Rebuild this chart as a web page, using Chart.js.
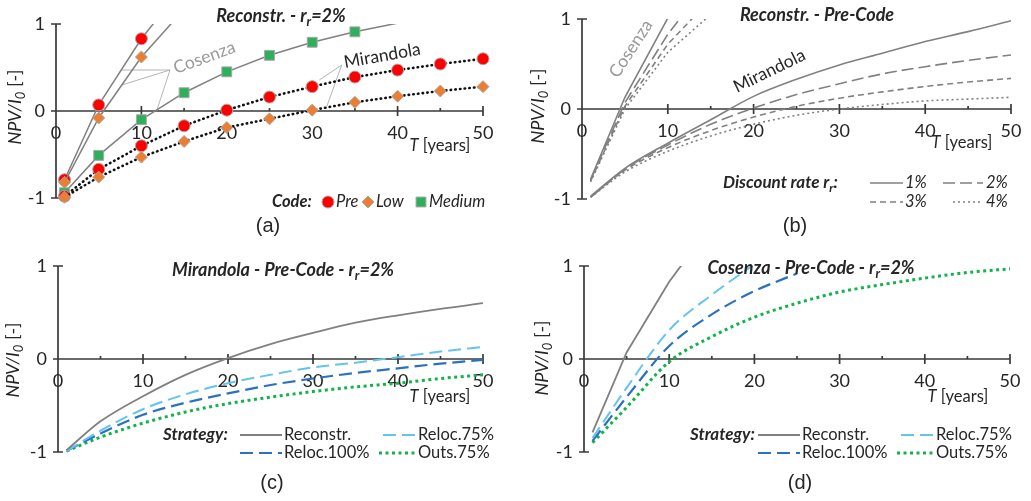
<!DOCTYPE html>
<html>
<head>
<meta charset="utf-8">
<script src="https://cdn.jsdelivr.net/npm/chart.js@4.4.0/dist/chart.umd.min.js"></script>
<style>
  body { margin: 0; background: #fff; }
  canvas { position: absolute; }
</style>
</head>
<body>
<canvas id="chartA" style="left:0;top:0" width="515" height="250"></canvas>
<canvas id="chartB" style="left:515px;top:0" width="516" height="250"></canvas>
<canvas id="chartC" style="left:0;top:250px" width="515" height="251"></canvas>
<canvas id="chartD" style="left:515px;top:250px" width="516" height="251"></canvas>
<script>
// time horizon T [years], shared by every series (a series may stop early)
const years = [1, 5, 10, 15, 20, 25, 30, 35, 40, 45, 50];
const xTicks = [0, 10, 20, 30, 40, 50];
const xMinorTicks = [5, 15, 25, 35, 45];
const yTicks = [-1, 0, 1];

// (a) Reconstr. - r=2%, by code level
const cosPre = [-0.79, 0.07, 0.83, 1.45];
const cosLow = [-0.82, -0.08, 0.62, 1.17];
const cosMedium = [-0.94, -0.51, -0.10, 0.21, 0.45, 0.64, 0.79, 0.91, 1.01];
const mirPre = [-0.98, -0.67, -0.40, -0.17, 0.01, 0.16, 0.28, 0.39, 0.47, 0.54, 0.60];
const mirLow = [-0.99, -0.76, -0.53, -0.35, -0.19, -0.09, 0.01, 0.10, 0.17, 0.23, 0.28];
const codeLabels = ['Pre', 'Low', 'Medium'];

// (b) Reconstr. - Pre-Code, by discount rate
const rateLabels = ['1%', '2%', '3%', '4%'];
const cosRate1 = [-0.78, 0.13, 1.01, 1.80];
const cosRate2 = cosPre;
const cosRate3 = [-0.80, 0.03, 0.72, 1.22];
const cosRate4 = [-0.81, 0.00, 0.63, 1.05];
const mirRate1 = [-0.97, -0.66, -0.38, -0.12, 0.14, 0.33, 0.49, 0.62, 0.75, 0.86, 0.98];
const mirRate2 = mirPre;
const mirRate3 = [-0.98, -0.68, -0.43, -0.24, -0.09, 0.03, 0.12, 0.19, 0.25, 0.30, 0.34];
const mirRate4 = [-0.98, -0.70, -0.47, -0.30, -0.17, -0.07, 0.00, 0.05, 0.09, 0.11, 0.13];

// (c), (d) Pre-Code - r=2%, by strategy
const strategyLabels = ['Reconstr.', 'Reloc.75%', 'Reloc.100%', 'Outs.75%'];
const mirReconstr = mirPre;
const mirReloc75 = [-0.99, -0.77, -0.54, -0.38, -0.26, -0.17, -0.09, -0.04, 0.02, 0.08, 0.13];
const mirReloc100 = [-0.99, -0.80, -0.60, -0.47, -0.37, -0.28, -0.21, -0.15, -0.10, -0.05, -0.01];
const mirOuts75 = [-0.99, -0.84, -0.69, -0.57, -0.48, -0.41, -0.35, -0.30, -0.26, -0.21, -0.17];
const cosReconstr = cosPre;
const cosReloc75 = [-0.85, -0.31, 0.31, 0.69, 1.02];
const cosReloc100 = [-0.88, -0.41, 0.14, 0.48, 0.73, 0.92];
const cosOuts75 = [-0.90, -0.52, -0.03, 0.24, 0.45, 0.60, 0.72, 0.80, 0.87, 0.93, 0.97];

const FONT = 'Lato, "Open Sans", sans-serif';
const CAPTION_FONT = '"Liberation Sans", Arial, sans-serif';
const TEXT = '#262626';
const AXIS = '#3a3a3a';
const GRAY = '#808080';
const RED = '#ff0000';
const ORANGE = '#ed7d31';
const GREEN = '#2fae5c';
const LIGHT_BLUE = '#62c4ef';
const DARK_BLUE = '#2a72c0';
const DOT_GREEN = '#12b34a';
const TITLE_SIZE = 18;
const LABEL_SIZE = 16.5;

function pts(values) {
  return values.map((v, i) => ({ x: years[i], y: v }));
}

// rich text: segments with their own style, optional subscript
function seg(t, style, size, sub, family) {
  return { t, style: style || '', size: size || LABEL_SIZE, sub: !!sub, family };
}
function fontOf(s) {
  const it = s.style.includes('i') ? 'italic ' : '';
  const bd = s.style.includes('b') ? 'bold ' : '';
  const size = s.sub ? Math.round(s.size * 0.7) : s.size;
  return it + bd + size + 'px ' + (s.family || FONT);
}
function drawRich(ctx, t) {
  ctx.save();
  ctx.translate(t.x, t.y);
  if (t.rot) ctx.rotate(t.rot * Math.PI / 180);
  ctx.textAlign = 'left';
  ctx.textBaseline = t.baseline || 'middle';
  let w = 0;
  t.segs.forEach(s => { ctx.font = fontOf(s); w += ctx.measureText(s.t).width; });
  let cx = t.align === 'center' ? -w / 2 : (t.align === 'right' ? -w : 0);
  t.segs.forEach(s => {
    ctx.font = fontOf(s);
    ctx.fillStyle = t.color || TEXT;
    ctx.fillText(s.t, cx, s.sub ? s.size * 0.32 : 0);
    cx += ctx.measureText(s.t).width;
  });
  ctx.restore();
}

function drawMarker(ctx, ds, x, y) {
  ctx.save();
  ctx.fillStyle = ds.pointBackgroundColor;
  ctx.strokeStyle = ds.pointBorderColor;
  ctx.lineWidth = ds.pointBorderWidth;
  const r = ds.legendRadius;
  ctx.beginPath();
  if (ds.pointStyle === 'circle') ctx.arc(x, y, r, 0, Math.PI * 2);
  else if (ds.pointStyle === 'rectRot') {
    ctx.moveTo(x, y - r); ctx.lineTo(x + r, y); ctx.lineTo(x, y + r); ctx.lineTo(x - r, y); ctx.closePath();
  } else {
    const h = r * Math.SQRT1_2;
    ctx.rect(x - h, y - h, 2 * h, 2 * h);
  }
  ctx.fill();
  ctx.stroke();
  ctx.restore();
}

const decor = {
  id: 'decor',
  beforeDatasetsDraw(chart, args, o) {
    const { ctx } = chart;
    const x = chart.scales.x, y = chart.scales.y;
    const x0 = x.getPixelForValue(0), y0 = y.getPixelForValue(0);
    ctx.save();
    ctx.strokeStyle = AXIS;
    ctx.lineWidth = 1.7;
    ctx.beginPath();
    ctx.moveTo(x0, y.getPixelForValue(y.max));
    ctx.lineTo(x0, y.getPixelForValue(y.min));
    ctx.moveTo(x0, y0);
    ctx.lineTo(x.getPixelForValue(x.max), y0);
    xTicks.forEach(v => {
      const px = x.getPixelForValue(v);
      ctx.moveTo(px, y0 - 5); ctx.lineTo(px, y0 + 5);
    });
    xMinorTicks.forEach(v => {
      const px = x.getPixelForValue(v);
      ctx.moveTo(px, y0 - 3); ctx.lineTo(px, y0);
    });
    yTicks.forEach(v => {
      const py = y.getPixelForValue(v);
      ctx.moveTo(x0 - 5, py); ctx.lineTo(x0 + 5, py);
    });
    ctx.stroke();

    ctx.fillStyle = TEXT;
    ctx.font = '18px ' + FONT;
    ctx.textBaseline = 'middle';
    ctx.textAlign = 'center';
    xTicks.forEach(v => ctx.fillText(String(v), x.getPixelForValue(v), y0 + 22));
    ctx.textAlign = 'right';
    yTicks.forEach(v => ctx.fillText(String(v), x0 - 11, y.getPixelForValue(v)));

    // callout lines of the annotations
    ctx.strokeStyle = '#b4b4b4';
    ctx.lineWidth = 1;
    (o.callouts || []).forEach(c => {
      c.to.forEach(p => {
        ctx.beginPath();
        ctx.moveTo(c.from[0], c.from[1]);
        ctx.lineTo(p[0], p[1]);
        ctx.stroke();
      });
    });
    ctx.restore();
  },
  afterDraw(chart, args, o) {
    const { ctx } = chart;
    (o.texts || []).forEach(t => drawRich(ctx, t));
    (o.legend || []).forEach(item => {
      const ds = chart.data.datasets[item.ds];
      if (item.marker) {
        drawMarker(ctx, ds, item.x1, item.y);
      } else {
        ctx.save();
        ctx.strokeStyle = ds.borderColor;
        ctx.lineWidth = ds.borderWidth;
        ctx.setLineDash(ds.borderDash || []);
        ctx.lineCap = ds.borderCapStyle || 'butt';
        ctx.beginPath();
        ctx.moveTo(item.x1, item.y);
        ctx.lineTo(item.x2, item.y);
        ctx.stroke();
        ctx.restore();
      }
      drawRich(ctx, { x: item.lx, y: item.y, segs: [seg(item.label, item.style || '')] });
    });
  }
};
Chart.register(decor);

function options(pad, decorOpts) {
  return {
    responsive: false,
    animation: false,
    events: [],
    layout: { padding: pad },
    plugins: { legend: { display: false }, tooltip: { enabled: false }, decor: decorOpts },
    scales: {
      x: { type: 'linear', min: 0, max: 50, display: false },
      y: { type: 'linear', min: -1, max: 1, display: false }
    },
    elements: { point: { radius: 0 } }
  };
}

const CLIP = { left: 10, top: 0, right: 10, bottom: 10 };
const hideAbove = c => (c.raw && c.raw.y > 1 ? 0 : 6);

function title(x, y, main, withRate) {
  const segs = [seg(main, 'bi', TITLE_SIZE)];
  if (withRate) segs.push(seg('r', 'bi', TITLE_SIZE, true), seg('=2%', 'bi', TITLE_SIZE));
  return { x, y, align: 'center', segs };
}
function yTitle(x, y) {
  return { x, y, rot: -90, align: 'center',
    segs: [seg('NPV/I', 'i', 18), seg('0', 'i', 18, true), seg(' [-]', '', 18)] };
}
function xTitle(x, y) {
  return { x, y, align: 'center', segs: [seg('T', 'i'), seg(' [years]', '')] };
}
function caption(t, x, y) {
  return { x, y, align: 'center', segs: [seg(t, '', 20, false, CAPTION_FONT)] };
}

// ---------- (a)
function markerSet(values, style, color, dotted) {
  return {
    data: pts(values),
    borderColor: dotted ? '#111' : GRAY,
    borderWidth: dotted ? 2.6 : 1.5,
    borderDash: dotted ? [0.5, 4.2] : [],
    borderCapStyle: dotted ? 'round' : 'butt',
    pointStyle: style,
    pointRadius: style === 'rect' ? (c => (c.raw && c.raw.y > 1 ? 0 : 7)) : hideAbove,
    legendRadius: style === 'rect' ? 7 : 6,
    pointBackgroundColor: color,
    pointBorderColor: '#a8a8a8',
    pointBorderWidth: 1,
    clip: CLIP
  };
}

new Chart(document.getElementById('chartA'), {
  type: 'line',
  data: {
    datasets: [
      markerSet(mirLow, 'rectRot', ORANGE, true),
      markerSet(mirPre, 'circle', RED, true),
      markerSet(cosMedium, 'rect', GREEN, false),
      markerSet(cosLow, 'rectRot', ORANGE, false),
      markerSet(cosPre, 'circle', RED, false)
    ]
  },
  options: options({ left: 56, right: 32, top: 24, bottom: 52 }, {
    callouts: [
      { from: [170, 70], to: [[121.7, 70], [121.7, 85], [156.7, 110.7]] },
      { from: [341.7, 65], to: [[319.3, 80], [326.7, 106.7]] }
    ],
    texts: [
      title(281, 16, 'Reconstr. - r', true),
      yTitle(15, 107),
      xTitle(440, 146),
      caption('(a)', 268, 226),
      { x: 176, y: 74, rot: -20, baseline: 'alphabetic', color: '#9a9a9a', segs: [seg('Cosenza', '', 17.5)] },
      { x: 345, y: 68, rot: -10, baseline: 'alphabetic', color: TEXT, segs: [seg('Mirandola', '', 17.5)] },
      { x: 272, y: 202, segs: [seg('Code:', 'bi')] }
    ],
    legend: [
      { ds: 1, marker: true, x1: 328, y: 202, lx: 336, label: codeLabels[0], style: 'i' },
      { ds: 0, marker: true, x1: 368, y: 202, lx: 376, label: codeLabels[1], style: 'i' },
      { ds: 2, marker: true, x1: 421, y: 202, lx: 429, label: codeLabels[2], style: 'i' }
    ]
  })
});

// ---------- (b)
const rateDash = [[], [12, 5], [6, 4], [2, 3]];
function rateSet(values, k, smooth) {
  return {
    data: pts(values),
    borderColor: GRAY,
    borderWidth: 1.6,
    borderDash: rateDash[k],
    cubicInterpolationMode: smooth ? 'monotone' : 'default',
    clip: CLIP
  };
}

new Chart(document.getElementById('chartB'), {
  type: 'line',
  data: {
    datasets: [
      rateSet(mirRate1, 0, true), rateSet(mirRate2, 1, true),
      rateSet(mirRate3, 2, true), rateSet(mirRate4, 3, true),
      rateSet(cosRate1, 0, false), rateSet(cosRate2, 1, false),
      rateSet(cosRate3, 2, false), rateSet(cosRate4, 3, false)
    ]
  },
  options: options({ left: 67, right: 20, top: 19, bottom: 51 }, {
    texts: [
      title(302, 15, 'Reconstr. - Pre-Code', false),
      yTitle(23, 106),
      xTitle(447, 143),
      caption('(b)', 280, 226),
      { x: 103, y: 79, rot: -57, baseline: 'alphabetic', color: '#9a9a9a', segs: [seg('Cosenza', '', 17.5)] },
      { x: 222, y: 93, rot: -26, baseline: 'alphabetic', color: TEXT, segs: [seg('Mirandola', '', 17.5)] },
      { x: 208, y: 183, segs: [seg('Discount rate r', 'bi', 17), seg('r', 'bi', 17, true), seg(':', 'bi', 17)] }
    ],
    legend: [
      { ds: 0, x1: 355, x2: 388, y: 183, lx: 390, label: rateLabels[0], style: 'i' },
      { ds: 1, x1: 428, x2: 468, y: 183, lx: 471, label: rateLabels[1], style: 'i' },
      { ds: 2, x1: 355, x2: 388, y: 202, lx: 390, label: rateLabels[2], style: 'i' },
      { ds: 3, x1: 438, x2: 468, y: 202, lx: 471, label: rateLabels[3], style: 'i' }
    ]
  })
});

// ---------- (c), (d)
const strategyStyle = [
  { borderColor: GRAY, borderWidth: 1.8, borderDash: [] },
  { borderColor: LIGHT_BLUE, borderWidth: 2, borderDash: [13, 6] },
  { borderColor: DARK_BLUE, borderWidth: 2.2, borderDash: [13, 6] },
  { borderColor: DOT_GREEN, borderWidth: 3, borderDash: [3, 3.5] }
];
function strategySet(values, k, smooth) {
  return Object.assign({
    data: pts(values),
    cubicInterpolationMode: smooth ? 'monotone' : 'default',
    clip: CLIP
  }, strategyStyle[k]);
}
function strategyLegend(dx) {
  return [
    { ds: 0, x1: 240 + dx, x2: 282 + dx, y: 185, lx: 284 + dx, label: strategyLabels[0] },
    { ds: 1, x1: 383 + dx, x2: 416 + dx, y: 185, lx: 418 + dx, label: strategyLabels[1] },
    { ds: 2, x1: 240 + dx, x2: 282 + dx, y: 203, lx: 284 + dx, label: strategyLabels[2] },
    { ds: 3, x1: 379 + dx, x2: 416 + dx, y: 203, lx: 418 + dx, label: strategyLabels[3] }
  ];
}

new Chart(document.getElementById('chartC'), {
  type: 'line',
  data: {
    datasets: [
      strategySet(mirReconstr, 0, true), strategySet(mirReloc75, 1, true),
      strategySet(mirReloc100, 2, true), strategySet(mirOuts75, 3, true)
    ]
  },
  options: options({ left: 58, right: 32, top: 16, bottom: 49 }, {
    texts: [
      title(283, 20, 'Mirandola - Pre-Code - r', true),
      yTitle(13, 110),
      xTitle(440, 147),
      caption('(c)', 272, 233),
      { x: 163, y: 185, segs: [seg('Strategy:', 'bi', 17)] }
    ],
    legend: strategyLegend(0)
  })
});

new Chart(document.getElementById('chartD'), {
  type: 'line',
  data: {
    datasets: [
      strategySet(cosReconstr, 0, false), strategySet(cosReloc75, 1, true),
      strategySet(cosReloc100, 2, true), strategySet(cosOuts75, 3, true)
    ]
  },
  options: options({ left: 69, right: 21, top: 16, bottom: 49 }, {
    texts: [
      title(296, 18, 'Cosenza - Pre-Code - r', true),
      yTitle(27, 108),
      xTitle(443, 147),
      caption('(d)', 285, 233),
      { x: 175, y: 185, segs: [seg('Strategy:', 'bi', 17)] }
    ],
    legend: strategyLegend(3)
  })
});
</script>
</body>
</html>
